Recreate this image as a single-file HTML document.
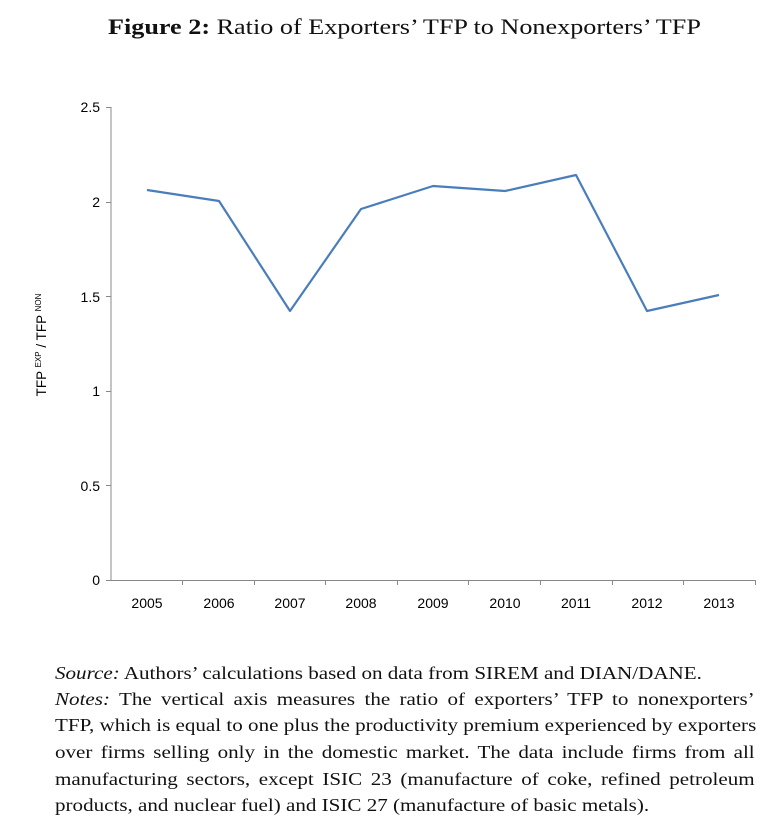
<!DOCTYPE html>
<html><head><meta charset="utf-8"><style>
body{margin:0;background:#fff;width:770px;height:838px;overflow:hidden;position:relative;font-family:"Liberation Serif",serif;color:#111}
.t{position:absolute;left:108px;top:14px;font-size:22px;white-space:nowrap;transform:scaleX(1.19);transform-origin:0 0}
.l{position:absolute;left:55px;width:598px;font-size:18px;white-space:nowrap;text-align:justify;text-align-last:justify;transform:scaleX(1.17);transform-origin:0 0}
.l.last{text-align-last:left}
svg{position:absolute;left:0;top:0}
</style></head><body>
<div class="t"><b>Figure 2:</b> Ratio of Exporters’ TFP to Nonexporters’ TFP</div>
<svg width="770" height="650" font-family="Liberation Sans, sans-serif" font-size="14" fill="#000">
<g stroke="#888" stroke-width="1">
<line x1="111" y1="107" x2="111" y2="581"/>
<line x1="111" y1="580.5" x2="755" y2="580.5"/>
<line x1="106" y1="107.5" x2="111" y2="107.5"/>
<line x1="106" y1="202.5" x2="111" y2="202.5"/>
<line x1="106" y1="296.5" x2="111" y2="296.5"/>
<line x1="106" y1="391.5" x2="111" y2="391.5"/>
<line x1="106" y1="485.5" x2="111" y2="485.5"/>
<line x1="106" y1="580.5" x2="111" y2="580.5"/>
<line x1="182.5" y1="580" x2="182.5" y2="585"/>
<line x1="254.5" y1="580" x2="254.5" y2="585"/>
<line x1="325.5" y1="580" x2="325.5" y2="585"/>
<line x1="397.5" y1="580" x2="397.5" y2="585"/>
<line x1="468.5" y1="580" x2="468.5" y2="585"/>
<line x1="540.5" y1="580" x2="540.5" y2="585"/>
<line x1="612.5" y1="580" x2="612.5" y2="585"/>
<line x1="683.5" y1="580" x2="683.5" y2="585"/>
<line x1="755.5" y1="580" x2="755.5" y2="585"/>
</g>
<g text-anchor="end">
<text x="100" y="112">2.5</text><text x="100" y="207">2</text><text x="100" y="302">1.5</text>
<text x="100" y="396">1</text><text x="100" y="491">0.5</text><text x="100" y="585">0</text>
</g>
<g text-anchor="middle">
<text x="147" y="608">2005</text><text x="219" y="608">2006</text><text x="290" y="608">2007</text>
<text x="361" y="608">2008</text><text x="433" y="608">2009</text><text x="505" y="608">2010</text>
<text x="576" y="608">2011</text><text x="647" y="608">2012</text><text x="719" y="608">2013</text>
</g>
<text transform="translate(46,345) rotate(-90)" text-anchor="middle" font-size="13.5">TFP <tspan font-size="8" dy="-5">EXP</tspan><tspan dy="5"> / TFP </tspan><tspan font-size="8" dy="-5">NON</tspan></text>
<polyline fill="none" stroke="#4a7ebb" stroke-width="2.2" stroke-linejoin="round" points="147,190 219,201 290,311 361,209 433,186 505,191 576,175 647,311 719,295"/>
</svg>
<div class="l last" style="top:663px"><i>Source:</i> Authors’ calculations based on data from SIREM and DIAN/DANE.</div>
<div class="l" style="top:689px"><i>Notes:</i> The vertical axis measures the ratio of exporters’ TFP to nonexporters’</div>
<div class="l" style="top:715px">TFP, which is equal to one plus the productivity premium experienced by exporters</div>
<div class="l" style="top:742px">over firms selling only in the domestic market. The data include firms from all</div>
<div class="l" style="top:769px">manufacturing sectors, except ISIC 23 (manufacture of coke, refined petroleum</div>
<div class="l last" style="top:795px">products, and nuclear fuel) and ISIC 27 (manufacture of basic metals).</div>
</body></html>
